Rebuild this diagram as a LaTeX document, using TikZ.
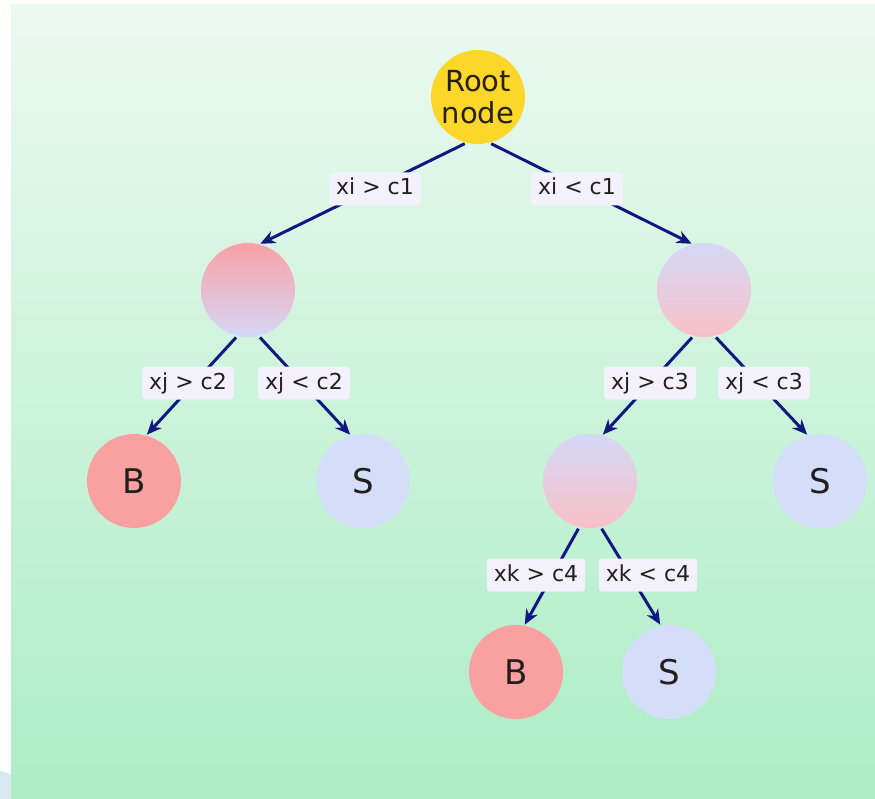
\documentclass[tikz,border=0pt]{standalone}
\usepackage{fontspec}
\setmainfont{DejaVu Sans}
\usetikzlibrary{arrows.meta}
\definecolor{bgtop}{RGB}{235,249,240}
\definecolor{bgbot}{RGB}{172,237,197}
\definecolor{pinkB}{RGB}{249,160,160}
\definecolor{blueS}{RGB}{213,222,248}
\definecolor{rootc}{RGB}{251,215,42}
\definecolor{edgec}{RGB}{18,22,128}
\definecolor{labfill}{RGB}{243,241,252}
\definecolor{txt}{RGB}{35,30,30}
\definecolor{roottxt}{RGB}{40,30,10}
\definecolor{gradpink}{RGB}{249,160,164}
\definecolor{gradlav}{RGB}{212,216,247}
\definecolor{gradpink2}{RGB}{249,192,200}
\definecolor{artblue}{RGB}{215,232,240}
\tikzset{
  circ/.style={circle, minimum size=94pt, inner sep=0pt, text=txt},
  leafB/.style={circ, fill=pinkB, font=\fontsize{34}{38}\selectfont},
  leafS/.style={circ, fill=blueS, font=\fontsize{34}{38}\selectfont},
  innerA/.style={circ, top color=gradpink, bottom color=gradlav},
  innerB/.style={circ, top color=gradlav, bottom color=gradpink2},
  rootnode/.style={circ, fill=rootc, align=center, text=roottxt, font=\fontsize{29}{32}\selectfont},
  edge/.style={draw=edgec, line width=3pt, -{Stealth[length=15pt,width=13pt]}, shorten <=2pt, shorten >=1pt},
  lab/.style={fill=labfill, rounded corners=3pt, inner xsep=7pt, inner ysep=6pt, text height=16.5pt, text depth=4.5pt, text=txt, font=\fontsize{22}{25}\selectfont}
}
\begin{document}
\begin{tikzpicture}[x=1pt,y=-1pt]
\useasboundingbox (0,0) rectangle (875,799);
\shade[top color=bgtop, bottom color=bgbot] (11,5) rectangle (875,799);
\fill[artblue] (0,771) -- (11,774) -- (11,799) -- (0,799) -- cycle;
\node[rootnode] (root) at (478,97) {Root\\node};
\node[innerA] (n1) at (248,290) {};
\node[innerB] (n2) at (704,290) {};
\node[leafB] (b1) at (134,481) {B};
\node[leafS] (s1) at (363,481) {S};
\node[innerB] (n3) at (590,481) {};
\node[leafS] (s2) at (820,481) {S};
\node[leafB] (b2) at (516,672) {B};
\node[leafS] (s3) at (669,672) {S};
\draw[edge] (root.-104) -- (n1.76);
\draw[edge] (root.-76) -- (n2.104);
\draw[edge] (n1.-103) -- (b1.75);
\draw[edge] (n1.-77) -- (s1.105);
\draw[edge] (n2.-103) -- (n3.75);
\draw[edge] (n2.-77) -- (s2.105);
\draw[edge] (n3.-103) -- (b2.80);
\draw[edge] (n3.-77) -- (s3.100);
\node[lab] (l1) at (375,189) {xi > c1};
\node[lab] (l2) at (577,189) {xi < c1};
\node[lab] (l3) at (188,383) {xj > c2};
\node[lab] (l4) at (304,383) {xj < c2};
\node[lab] (l5) at (650,383) {xj > c3};
\node[lab] (l6) at (764,383) {xj < c3};
\node[lab] (l7) at (536,575) {xk > c4};
\node[lab] (l8) at (648,575) {xk < c4};
\end{tikzpicture}
\end{document}
